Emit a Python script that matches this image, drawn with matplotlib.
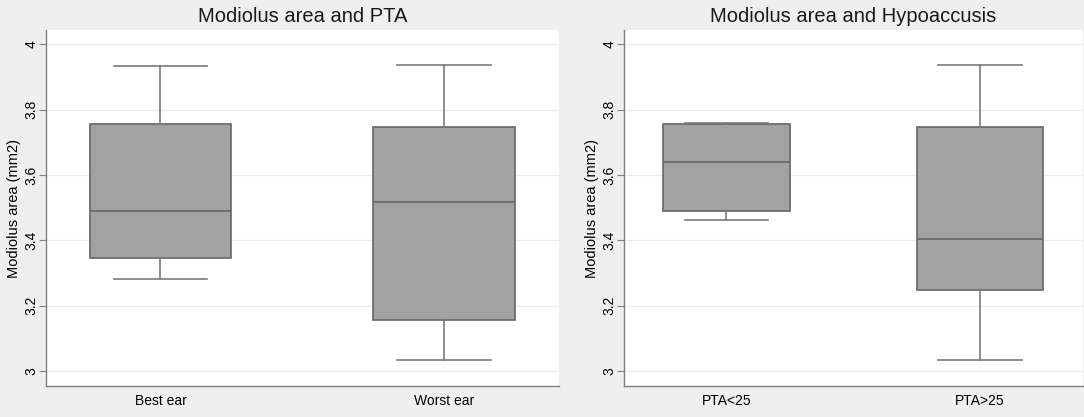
import matplotlib.pyplot as plt

plt.rcParams['font.family'] = ['Liberation Sans', 'DejaVu Sans']

# box stats: whisker low, q1, median, q3, whisker high
left_title = "Modiolus area and PTA"
left_groups = ["Best ear", "Worst ear"]
left_wlo = [3.282, 3.033]
left_q1 = [3.346, 3.156]
left_med = [3.490, 3.518]
left_q3 = [3.757, 3.748]
left_whi = [3.935, 3.938]

right_title = "Modiolus area and Hypoaccusis"
right_groups = ["PTA<25", "PTA>25"]
right_wlo = [3.461, 3.033]
right_q1 = [3.491, 3.248]
right_med = [3.640, 3.404]
right_q3 = [3.757, 3.748]
right_whi = [3.758, 3.938]

yticks = [3, 3.2, 3.4, 3.6, 3.8, 4]
ylabel = "Modiolus area (mm2)"

bg = "#efefef"
fill = "#a2a2a2"
edge = "#666666"
wcol = "#7a7a7a"

fig = plt.figure(figsize=(10.84, 4.17), dpi=100, facecolor=bg)
ax1 = fig.add_axes([0.0424, 0.0743, 0.4733, 0.8537])
ax2 = fig.add_axes([0.5756, 0.0743, 0.4234, 0.8537])


def draw(ax, title, groups, wlo, q1, med, q3, whi):
    stats = []
    for i in range(len(groups)):
        stats.append({"label": groups[i], "whislo": wlo[i], "q1": q1[i],
                      "med": med[i], "q3": q3[i], "whishi": whi[i], "fliers": []})
    ax.bxp(stats, positions=[1, 2], widths=0.5, patch_artist=True,
           showfliers=False,
           boxprops=dict(facecolor=fill, edgecolor=edge, linewidth=1.2),
           medianprops=dict(color=edge, linewidth=1.2),
           whiskerprops=dict(color=wcol, linewidth=1.2),
           capprops=dict(color=wcol, linewidth=1.2),
           capwidths=0.33)
    ax.set_xlim(0.596, 2.406)
    ax.set_ylim(2.954, 4.044)
    ax.set_yticks(yticks)
    ax.set_yticklabels(["3", "3.2", "3.4", "3.6", "3.8", "4"], rotation=90,
                       va="center", fontsize=10)
    ax.tick_params(axis="y", length=5, color="#808080", pad=0.5)
    ax.tick_params(axis="x", length=0, labelsize=10, pad=6)
    ax.set_ylabel(ylabel, fontsize=10.5, labelpad=2.5)
    ax.set_title(title, fontsize=14.5, pad=6, color="#1a1a1a")
    ax.grid(axis="y", color="#ececec", linewidth=0.9)
    ax.set_axisbelow(True)
    for s in ["top", "right"]:
        ax.spines[s].set_visible(False)
    for s in ["left", "bottom"]:
        ax.spines[s].set_color("#808080")
        ax.spines[s].set_linewidth(1.0)


draw(ax1, left_title, left_groups, left_wlo, left_q1, left_med, left_q3, left_whi)
draw(ax2, right_title, right_groups, right_wlo, right_q1, right_med, right_q3, right_whi)

fig.savefig("out.png", dpi=100, facecolor=bg)
